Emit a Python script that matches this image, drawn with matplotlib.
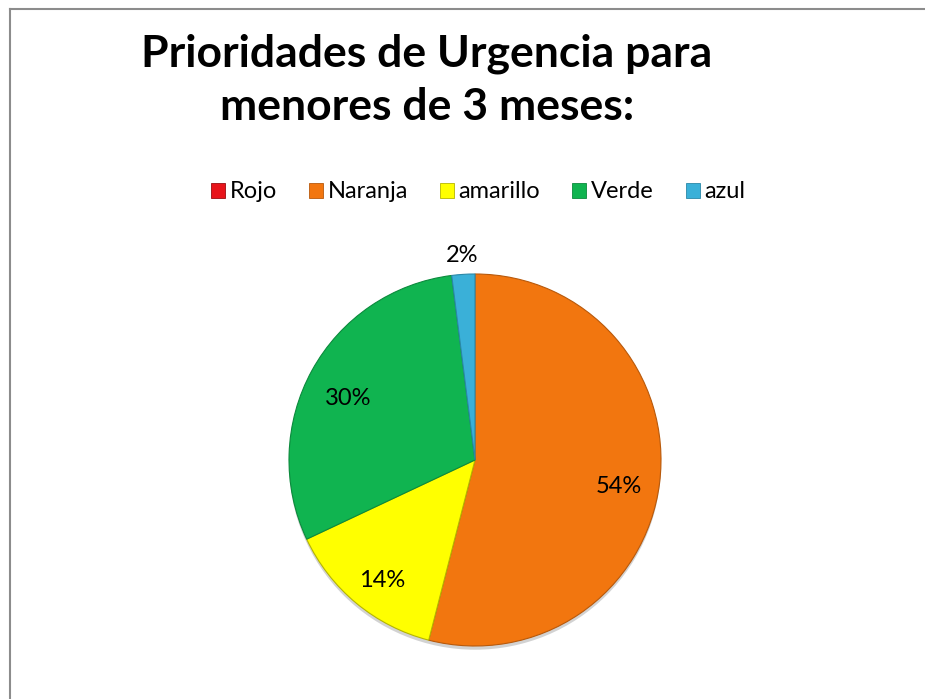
import matplotlib

matplotlib.use("Agg")

import matplotlib.pyplot as plt
import numpy as np
from matplotlib.lines import Line2D
from matplotlib.patches import Circle

CATEGORIES = ["Rojo", "Naranja", "amarillo", "Verde", "azul"]
SHARES = [0, 54, 14, 30, 2]
COLORS = ["#E8141B", "#F2760F", "#FFFF00", "#10B450", "#3AB0D8"]
EDGES = ["#9A0C10", "#B8590B", "#B5B500", "#0B8A3C", "#2A88A8"]
TITLE = "Prioridades de Urgencia para\nmenores de 3 meses:"

W, H = 925, 699
CX, CY, R = 475, 460, 186

plt.rcParams["font.family"] = ["Lato", "DejaVu Sans"]

fig = plt.figure(figsize=(W / 100, H / 100), dpi=100)

# frame: only top and left edges show in the crop
fig.add_artist(Line2D([9.5 / W, 9.5 / W], [0, 1 - 8.5 / H], color="#8c8c8c", lw=1.5,
                      transform=fig.transFigure))
fig.add_artist(Line2D([9.5 / W, 1], [1 - 8.5 / H, 1 - 8.5 / H], color="#8c8c8c", lw=1.5,
                      transform=fig.transFigure))

fig.text(427 / W, 1 - 80 / H, TITLE, ha="center", va="center", fontsize=32,
         fontweight="bold", linespacing=1.4)

span = 1.3
side = 2 * R * span
ax = fig.add_axes([(CX - side / 2) / W, (H - CY - side / 2) / H, side / W, side / H])

# soft shadow under the pie
ax.add_patch(Circle((0.0, -0.02), 1.0, facecolor="#808080", alpha=0.35, lw=0, zorder=0))


def fmt(p):
    return f"{p:.0f}%" if p > 0.5 else ""


wedges, texts, pct_texts = ax.pie(
    SHARES,
    colors=COLORS,
    startangle=90,
    counterclock=False,
    radius=1,
    autopct=fmt,
    pctdistance=0.78,
    textprops={"fontsize": 17},
    wedgeprops={"linewidth": 0.8},
)
for w, ec in zip(wedges, EDGES):
    w.set_edgecolor(ec)

ax.set_xlim(-span, span)
ax.set_ylim(-span, span)
ax.set_aspect("equal")
ax.axis("off")

for t in pct_texts:
    x, y = t.get_position()
    if t.get_text() == "2%":
        # small slice label sits outside the pie
        ang = np.arctan2(y, x)
        t.set_position((1.1 * np.cos(ang), 1.1 * np.sin(ang)))
    else:
        t.set_position((x, y - 0.045))

leg_handles = [plt.Rectangle((0, 0), 1, 1, facecolor=c, edgecolor=e, lw=0.6)
               for c, e in zip(COLORS, EDGES)]
fig.legend(leg_handles, CATEGORIES, loc="center", bbox_to_anchor=(478 / W, 1 - 192 / H),
           ncol=5, frameon=False, fontsize=17, handlelength=0.6, handleheight=0.6,
           handletextpad=0.2, columnspacing=1.35)

fig.savefig("out.png", dpi=100)
